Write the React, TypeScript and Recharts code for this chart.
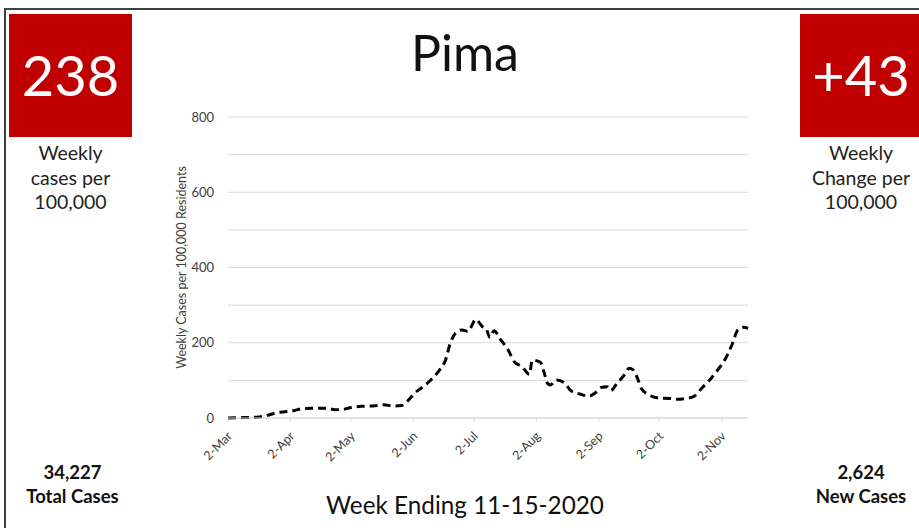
import { CartesianGrid, Line, LineChart, XAxis, YAxis } from 'recharts'

// days since 2-Mar-2020
const days = [
  0, 7, 14, 19, 24, 29, 33, 37, 44, 49, 53, 57, 61, 66, 72, 77, 82, 86, 89, 93, 97, 101, 105, 108, 110, 113, 116,
  119, 123, 126, 128, 130, 132, 135, 139, 142, 146, 149.5, 151, 155, 157, 158.5, 160, 163, 167, 170, 175, 179, 182,
  185, 188, 190, 193, 197, 199, 201, 203.5, 205, 209, 214, 219, 223, 227, 231, 235, 239, 243, 246, 250, 253, 256, 258,
]
const weeklyCases = [
  0, 1, 2, 6, 14, 17, 20, 25, 26, 26, 22, 23, 28, 31, 32, 35, 32, 33, 45, 68, 84, 103, 128, 155, 194, 226, 234, 230,
  262, 244, 238, 214, 232, 210, 181, 150, 136, 116, 154, 148, 118, 92, 88, 101, 93, 73, 63, 58, 66, 81, 83, 73, 92,
  117, 132, 128, 101, 79, 61, 53, 52, 50, 52, 57, 79, 101, 128, 150, 194, 234, 241, 238,
]
const monthTicks = [0, 31, 61, 92, 122, 153, 184, 214, 245]
const monthLabels = ['2-Mar', '2-Apr', '2-May', '2-Jun', '2-Jul', '2-Aug', '2-Sep', '2-Oct', '2-Nov']
const yTicks = [0, 200, 400, 600, 800]
const gridValues = [0, 50, 100, 150, 200, 250, 300, 350, 400, 450, 500, 550, 600, 650, 700, 750, 800]

const chartData = days.map((d, i) => ({ day: d, cases: weeklyCases[i] }))

const FONT = 'Lato, "Open Sans", sans-serif'
const RED = '#c00000'

const XTick = ({ x, y, payload }: any) => {
  const idx = monthTicks.indexOf(payload.value)
  return (
    <g transform={`translate(${x + 2},${y + 10})`}>
      <text x={0} y={0} dy={4} textAnchor='end' transform='rotate(-45)' fontSize={12.5} fill='#404040' fontFamily={FONT}>
        {monthLabels[idx]}
      </text>
    </g>
  )
}

const YTick = ({ x, y, payload }: any) => (
  <text x={x - 2} y={y} dy={4.5} textAnchor='end' fontSize={13} fill='#404040' fontFamily={FONT}>
    {payload.value}
  </text>
)

const textStyle = (left: number, top: number, width: number, size: number, extra: any = {}) => ({
  position: 'absolute' as const,
  left,
  top,
  width,
  textAlign: 'center' as const,
  fontSize: size,
  fontFamily: FONT,
  color: '#222',
  lineHeight: '24.5px',
  ...extra,
})

export default function App() {
  return (
    <div style={{ position: 'fixed', left: 0, top: 0, width: 919, height: 528, background: '#fff', overflow: 'hidden' }}>
      <div style={{ position: 'absolute', left: 4, top: 8, width: 930, height: 540, borderTop: '2px solid #404040', borderLeft: '2px solid #404040' }} />

      <div style={{ position: 'absolute', left: 9, top: 14, width: 123, height: 123, background: RED }} />
      <div style={textStyle(9, 39, 123, 56, { color: '#fff', lineHeight: '72px' })}>238</div>
      <div style={textStyle(9, 141, 123, 19.5)}>
        Weekly
        <br />
        cases per
        <br />
        100,000
      </div>

      <div style={{ position: 'absolute', left: 800, top: 14, width: 125, height: 123, background: RED }} />
      <div style={textStyle(800, 39, 122, 56, { color: '#fff', lineHeight: '72px' })}>+43</div>
      <div style={textStyle(800, 141, 122, 19.5)}>
        Weekly
        <br />
        Change per
        <br />
        100,000
      </div>

      <div style={textStyle(315, 22, 300, 50, { color: '#111', lineHeight: '60px' })}>Pima</div>

      <div style={textStyle(10, 460, 125, 18.5, { fontWeight: 700, color: '#111', lineHeight: '24px' })}>
        34,227
        <br />
        Total Cases
      </div>
      <div style={textStyle(800, 460, 122, 18.5, { fontWeight: 700, color: '#111', lineHeight: '24px' })}>
        2,624
        <br />
        New Cases
      </div>
      <div style={textStyle(265, 490, 400, 24.3, { color: '#111', lineHeight: '30px' })}>Week Ending 11-15-2020</div>

      <div style={{ position: 'absolute', left: 170, top: 105 }}>
        <LineChart width={590} height={360} data={chartData} margin={{ top: 12, right: 12, left: 0, bottom: 0 }}>
          <CartesianGrid vertical={false} stroke='#d9d9d9' horizontalValues={gridValues} />
          <XAxis
            dataKey='day'
            type='number'
            domain={[0, 258]}
            ticks={monthTicks}
            height={47}
            tick={<XTick />}
            stroke='#d9d9d9'
            tickSize={4}
            interval={0}
          />
          <YAxis
            domain={[0, 800]}
            ticks={yTicks}
            width={58}
            axisLine={false}
            tickLine={false}
            tickMargin={6}
            tick={<YTick />}
            label={{
              value: 'Weekly Cases per 100,000 Residents',
              angle: -90,
              position: 'center',
              dx: -17,
              fontSize: 12.5,
              fill: '#404040',
              fontFamily: FONT,
            }}
          />
          <Line
            type='monotone'
            dataKey='cases'
            stroke='#000'
            strokeWidth={3}
            strokeDasharray='8 5'
            dot={false}
            isAnimationActive={false}
          />
        </LineChart>
      </div>
    </div>
  )
}
